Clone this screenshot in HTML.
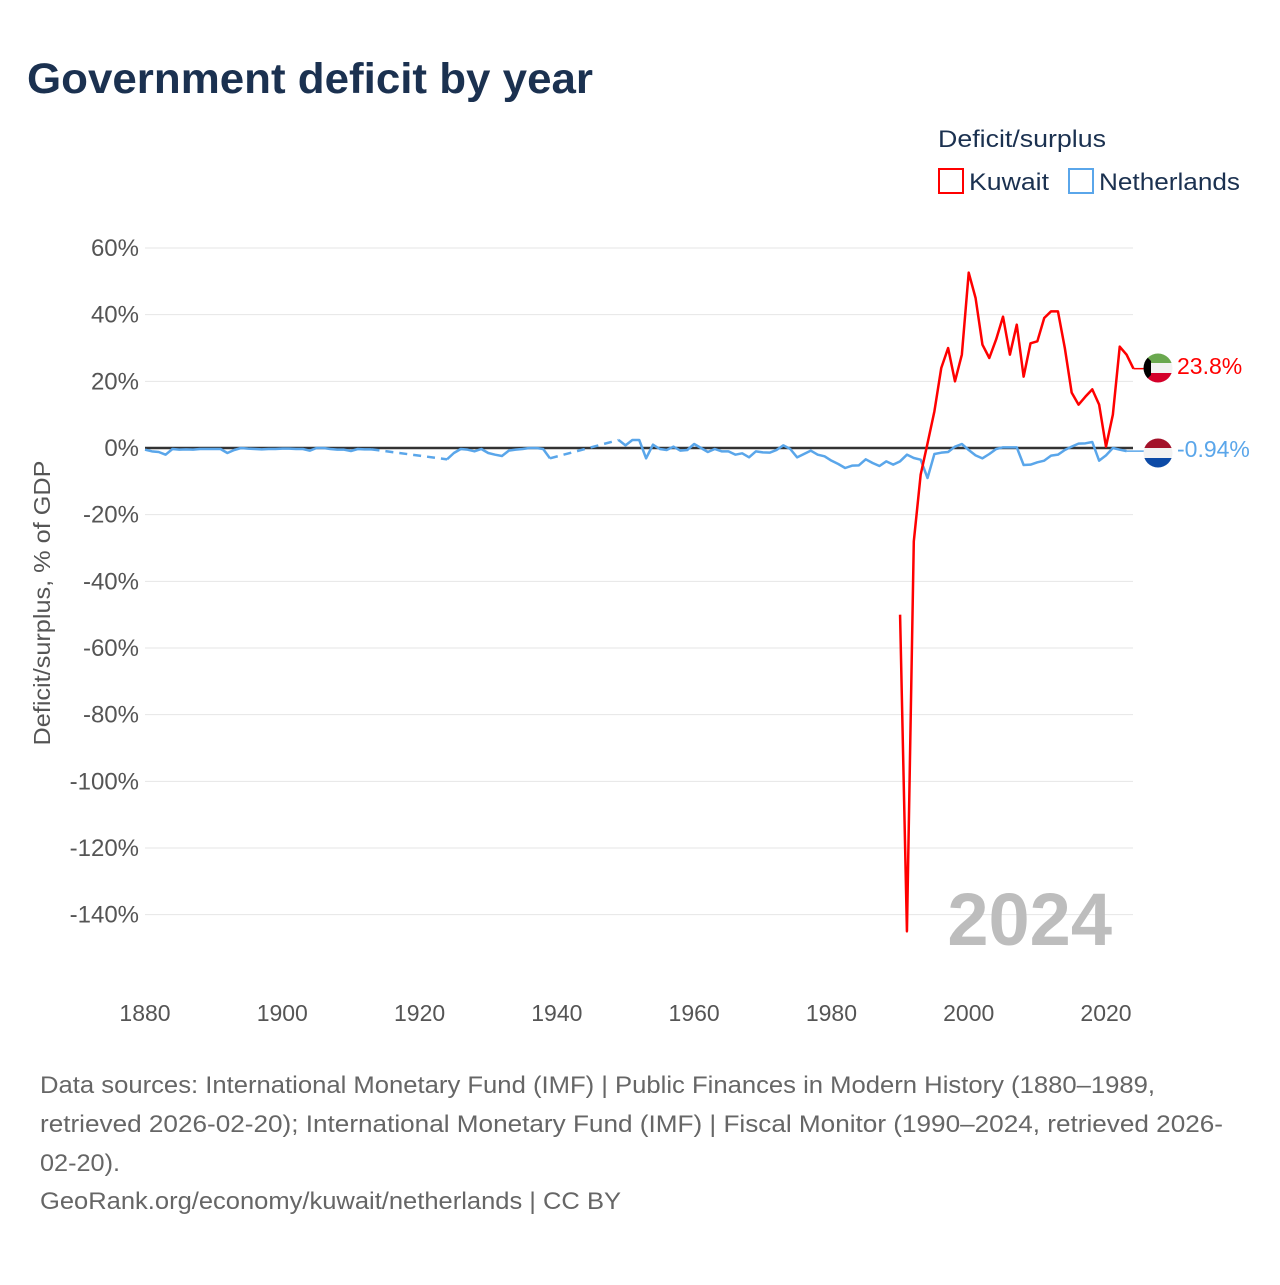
<!DOCTYPE html>
<html><head><meta charset="utf-8"><style>
body{margin:0;background:#fff;width:1280px;height:1280px;overflow:hidden;font-family:"Liberation Sans",sans-serif}
svg text{font-family:"Liberation Sans",sans-serif}
</style></head><body>
<svg id="chart" width="1280" height="1280" viewBox="0 0 1280 1280" xmlns="http://www.w3.org/2000/svg">
<text x="27" y="93" font-size="43" font-weight="bold" fill="#1b3150" textLength="566" lengthAdjust="spacingAndGlyphs">Government deficit by year</text>
<g>
<text x="938" y="147" font-size="24" fill="#1b3150" textLength="168" lengthAdjust="spacingAndGlyphs">Deficit/surplus</text>
<rect x="939" y="169" width="24" height="24" fill="none" stroke="#f00" stroke-width="2"/>
<text x="969" y="190" font-size="24" fill="#1b3150" textLength="80" lengthAdjust="spacingAndGlyphs">Kuwait</text>
<rect x="1069" y="169" width="24" height="24" fill="none" stroke="#5aa6ea" stroke-width="2"/>
<text x="1099" y="190" font-size="24" fill="#1b3150" textLength="141" lengthAdjust="spacingAndGlyphs">Netherlands</text>
</g>
<g id="grid"></g>
<g id="yticks"></g>
<g id="xticks"></g>
<text transform="translate(50,603) rotate(-90)" text-anchor="middle" font-size="23" fill="#555" textLength="285" lengthAdjust="spacingAndGlyphs">Deficit/surplus, % of GDP</text>
<text x="1112" y="945" text-anchor="end" font-size="74" font-weight="bold" fill="#bdbdbd">2024</text>
<g id="series"></g>
<g>
<clipPath id="ck"><circle cx="1158" cy="368" r="14.5"/></clipPath>
<g clip-path="url(#ck)"><rect x="1143" y="353" width="30" height="10" fill="#6aa84f"/><rect x="1143" y="363" width="30" height="10" fill="#f2f2f2"/><rect x="1143" y="373" width="30" height="10" fill="#d4002a"/><polygon points="1143,353 1151,361 1151,375 1143,383" fill="#000"/></g>
</g>
<g>
<clipPath id="cn"><circle cx="1158" cy="453" r="14.5"/></clipPath>
<g clip-path="url(#cn)"><rect x="1143" y="438" width="30" height="10" fill="#a3122a"/><rect x="1143" y="448" width="30" height="10" fill="#f2f2f2"/><rect x="1143" y="458" width="30" height="10" fill="#0c4aa6"/></g>
</g>
<text id="lblK" x="1177" y="374" font-size="23" fill="#f00">23.8%</text>
<text id="lblN" x="1177" y="457" font-size="23" fill="#5aa6ea">-0.94%</text>
<g font-size="24" fill="#666">
<text x="40" y="1093" textLength="1115" lengthAdjust="spacingAndGlyphs">Data sources: International Monetary Fund (IMF) | Public Finances in Modern History (1880–1989,</text>
<text x="40" y="1132" textLength="1183" lengthAdjust="spacingAndGlyphs">retrieved 2026-02-20); International Monetary Fund (IMF) | Fiscal Monitor (1990–2024, retrieved 2026-</text>
<text x="40" y="1171" textLength="80" lengthAdjust="spacingAndGlyphs">02-20).</text>
<text x="40" y="1209" textLength="581" lengthAdjust="spacingAndGlyphs">GeoRank.org/economy/kuwait/netherlands | CC BY</text>
</g>
</svg>
<script>
const yTicks=[60,40,20,0,-20,-40,-60,-80,-100,-120,-140];
const xTicks=[1880,1900,1920,1940,1960,1980,2000,2020];
const kuwaitStart=1990;
const kuwaitValues=[-50,-145,-28,-8,1.4,11,24,30,20,28,52.6,45,31,27,32.6,39.4,28,37,21.4,31.4,32,39,41,41,30,16.6,13,15.4,17.6,13,0.4,10,30.4,28,23.8];
const nlStart=1880;
const nlValues=[-0.5,-1,-1.2,-2,-0.3,-0.5,-0.4,-0.5,-0.3,-0.3,-0.3,-0.3,-1.5,-0.6,0,-0.2,-0.3,-0.4,-0.3,-0.3,-0.2,-0.2,-0.3,-0.3,-0.8,0,0,-0.3,-0.5,-0.5,-0.9,-0.3,-0.4,-0.4,
null,null,null,null,null,null,null,null,null,null,
-3.4,-1.5,-0.3,-0.5,-1,-0.3,-1.5,-2,-2.4,-0.8,-0.5,-0.3,0,0,-0.3,-3.1,
null,null,null,null,null,null,null,null,null,
2.4,0.8,2.4,2.4,-3.1,1,-0.3,-0.6,0.4,-0.8,-0.6,1.2,0,-1.2,-0.3,-1,-1,-2,-1.6,-2.8,-1,-1.3,-1.4,-0.6,0.8,-0.3,-2.8,-1.8,-0.8,-2,-2.5,-3.8,-4.8,-6,-5.3,-5.2,-3.4,-4.5,-5.4,-4,-5,
-4,-2,-3,-3.5,-9,-1.8,-1.4,-1.2,0.4,1.2,-0.6,-2.2,-3.1,-1.8,-0.3,0.2,0.2,0.2,-5.1,-5,-4.3,-3.8,-2.3,-2,-0.6,0.4,1.3,1.4,1.8,-3.8,-2.2,0,-0.5,-0.94];
const NS='http://www.w3.org/2000/svg';
const X=y=>145+(y-1880)*(961/140);
const Y=v=>448-v*(200/60);
const svg=document.getElementById('chart');
function mk(tag,attrs,parent){const e=document.createElementNS(NS,tag);for(const k in attrs)e.setAttribute(k,attrs[k]);parent.appendChild(e);return e;}
const grid=document.getElementById('grid'),yt=document.getElementById('yticks'),xt=document.getElementById('xticks'),ser=document.getElementById('series');
yTicks.forEach(v=>{
 if(v!==0){const l=mk('line',{x1:145,x2:1133,y1:Y(v),y2:Y(v),stroke:'#e6e6e6','stroke-width':1},grid);
 
 }
 const t=mk('text',{x:139,y:Y(v)+8,'text-anchor':'end','font-size':24,fill:'#555'},yt);
 
 
 t.textContent=v+'%';
});
xTicks.forEach(v=>{
 const t=mk('text',{x:X(v),y:1021,'text-anchor':'middle','font-size':23,fill:'#555'},xt);
 
 
 t.textContent=v;
});
const zl=mk('line',{x1:145,x2:1133,y1:Y(0),y2:Y(0),stroke:'#333','stroke-width':2.5},grid);


function draw(start,vals,color,name){
 let seg=[],last=null;const solid=[],dashed=[];
 vals.forEach((v,i)=>{
  if(v===null){if(seg.length)solid.push(seg);seg=[];return;}
  const p=[X(start+i),Y(v)];
  if(seg.length===0&&last&&last.i<i-1)dashed.push([last.p,p]);
  seg.push(p);last={i,p};
 });
 if(seg.length)solid.push(seg);
 dashed.forEach(s=>{const l=mk('polyline',{points:s.map(p=>p.join(',')).join(' '),fill:'none',stroke:color,'stroke-width':2.5,'stroke-dasharray':'8,6'},ser);
  
  });
 solid.forEach(s=>{const l=mk('polyline',{points:s.map(p=>p.join(',')).join(' '),fill:'none',stroke:color,'stroke-width':2.5,'stroke-linejoin':'round'},ser);
  
  });
 const lv=vals[vals.length-1];
 const c=mk('line',{x1:X(start+vals.length-1),x2:1144,y1:Y(lv),y2:Y(lv),stroke:color,'stroke-width':1.5},ser);
 
 
}
draw(nlStart,nlValues,'#5aa6ea','netherlands');
draw(kuwaitStart,kuwaitValues,'#f00','kuwait');
document.getElementById('lblK').textContent=kuwaitValues[kuwaitValues.length-1]+'%';
document.getElementById('lblN').textContent=nlValues[nlValues.length-1]+'%';
</script>
</body></html>
